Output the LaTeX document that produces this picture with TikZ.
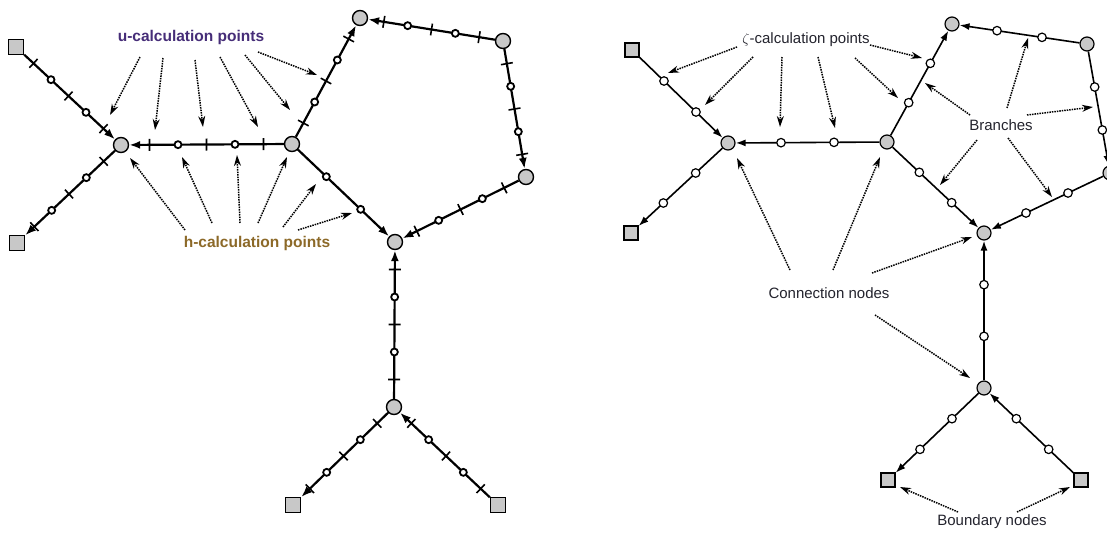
\documentclass[tikz,border=0pt]{standalone}
\usepackage{fontspec}
\setmainfont{Liberation Sans}
\usetikzlibrary{calc,arrows.meta}
\definecolor{nodegray}{RGB}{200,200,200}
\definecolor{ucol}{RGB}{70,45,120}
\definecolor{hcol}{RGB}{140,105,40}
\definecolor{labcol}{RGB}{35,35,45}
\tikzset{
  connL/.style={circle, draw, fill=nodegray, line width=1.4pt, minimum size=15pt, inner sep=0pt},
  connR/.style={circle, draw, fill=nodegray, line width=1.2pt, minimum size=14pt, inner sep=0pt},
  bndL/.style={rectangle, draw, fill=nodegray, line width=1.4pt, minimum size=15pt, inner sep=0pt},
  bndR/.style={rectangle, draw, fill=nodegray, line width=1.2pt, minimum size=14pt, inner sep=0pt},
  hpt/.style={circle, draw, fill=white, line width=1.8pt, minimum size=7pt, inner sep=0pt},
  zpt/.style={circle, draw, fill=white, line width=1.2pt, minimum size=8.5pt, inner sep=0pt},
  brL/.style={line width=2.2pt, -{Latex[length=11pt,width=8pt]}},
  brR/.style={line width=1.6pt, -{Latex[length=10pt,width=7pt]}},
  tk/.style={line width=1.6pt},
  ann/.style={densely dotted, line width=1.5pt, -{Stealth[length=11pt,width=7pt]}},
  leftlab/.style={font=\bfseries\fontsize{15.5}{18}\selectfont, inner sep=1pt},
  rightlab/.style={font=\fontsize{15}{18}\selectfont, text=labcol, inner sep=1pt}
}
% ticks and h-points on a left branch
\newcommand\lmarks[2]{%
  \foreach \t in {1/6,1/2,5/6}{%
    \draw[tk] ($(#1)!\t!(#2)!6pt!90:(#2)$) -- ($(#1)!\t!(#2)!6pt!-90:(#2)$);}
  \node[hpt] (#1#2h1) at ($(#1)!1/3!(#2)$) {};
  \node[hpt] (#1#2h2) at ($(#1)!2/3!(#2)$) {};}
\newcommand\lhonly[2]{%
  \node[hpt] (#1#2h1) at ($(#1)!1/3!(#2)$) {};
  \node[hpt] (#1#2h2) at ($(#1)!2/3!(#2)$) {};}
\newcommand\rmarks[2]{%
  \node[zpt] (#1#2z1) at ($(#1)!1/3!(#2)$) {};
  \node[zpt] (#1#2z2) at ($(#1)!2/3!(#2)$) {};}
\begin{document}
\begin{tikzpicture}[x=1pt,y=-1pt]
\useasboundingbox (0,0) rectangle (1107,533);

% ---------------- left network ----------------
\node[bndL] (LBa) at (16,47) {};
\node[bndL] (LBb) at (17,243) {};
\node[connL] (La) at (121,145) {};
\node[connL] (Lb) at (292,144) {};
\node[connL] (Lc) at (360,18) {};
\node[connL] (Ld) at (503,41) {};
\node[connL] (Le) at (526,177) {};
\node[connL] (Lf) at (395,242) {};
\node[connL] (Lg) at (394,407) {};
\node[bndL] (LBc) at (293,505) {};
\node[bndL] (LBd) at (498,505) {};

\draw[brL] (LBa) -- (La);
\draw[brL] (Lb) -- (La);
\draw[brL] (La) -- (LBb);
\draw[brL] (Lb) -- (Lc);
\draw[brL] (Ld) -- (Lc);
\draw[brL] (Ld) -- (Le);
\draw[brL] (Le) -- (Lf);
\draw[brL] (Lb) -- (Lf);
\draw[brL] (Lg) -- (Lf);
\draw[brL] (Lg) -- (LBc);
\draw[brL] (LBd) -- (Lg);

\lmarks{LBa}{La}
\lmarks{La}{Lb}
\lmarks{La}{LBb}
\lmarks{Lb}{Lc}
\lmarks{Lc}{Ld}
\lmarks{Ld}{Le}
\lmarks{Le}{Lf}
\lhonly{Lb}{Lf}
\lmarks{Lf}{Lg}
\lmarks{Lg}{LBc}
\lmarks{Lg}{LBd}

\node[leftlab, text=ucol] (ulab) at (191,37) {u-calculation points};
\node[leftlab, text=hcol] (hlab) at (257,243) {h-calculation points};

\coordinate (us1) at (140,57);  \coordinate (ue1) at (110,115);
\coordinate (us2) at (163,58);  \coordinate (ue2) at (155,130);
\coordinate (us3) at (195,60);  \coordinate (ue3) at (203,127);
\coordinate (us4) at (220,57);  \coordinate (ue4) at (258,127);
\coordinate (us5) at (245,55);  \coordinate (ue5) at (290,110);
\coordinate (us6) at (258,52);  \coordinate (ue6) at (317,75);
\foreach \i in {1,...,6}{\draw[ann] (us\i) -- (ue\i);}

\coordinate (hs1) at (185,230); \coordinate (he1) at (130,158);
\coordinate (hs2) at (212,223); \coordinate (he2) at (182,157);
\coordinate (hs3) at (240,223); \coordinate (he3) at (237,155);
\coordinate (hs4) at (258,223); \coordinate (he4) at (287,157);
\coordinate (hs5) at (283,227); \coordinate (he5) at (316,184);
\coordinate (hs6) at (298,230); \coordinate (he6) at (352,213);
\foreach \i in {1,...,6}{\draw[ann] (hs\i) -- (he\i);}

% ---------------- right network ----------------
\node[bndR] (RBa) at (632,50) {};
\node[bndR] (RBb) at (631,233) {};
\node[connR] (Ra) at (728,143) {};
\node[connR] (Rb) at (887,142) {};
\node[connR] (Rc) at (952,24) {};
\node[connR] (Rd) at (1087,44) {};
\node[connR] (Re) at (1110,173) {};
\node[connR] (Rf) at (984,233) {};
\node[connR] (Rg) at (984,388) {};
\node[bndR] (RBc) at (888,480) {};
\node[bndR] (RBd) at (1081,480) {};

\draw[brR] (RBa) -- (Ra);
\draw[brR] (Rb) -- (Ra);
\draw[brR] (Ra) -- (RBb);
\draw[brR] (Rb) -- (Rc);
\draw[brR] (Rd) -- (Rc);
\draw[brR] (Rd) -- (Re);
\draw[brR] (Re) -- (Rf);
\draw[brR] (Rb) -- (Rf);
\draw[brR] (Rg) -- (Rf);
\draw[brR] (Rg) -- (RBc);
\draw[brR] (RBd) -- (Rg);

\rmarks{RBa}{Ra}
\rmarks{Ra}{Rb}
\rmarks{Ra}{RBb}
\rmarks{Rb}{Rc}
\rmarks{Rc}{Rd}
\rmarks{Rd}{Re}
\rmarks{Re}{Rf}
\rmarks{Rb}{Rf}
\rmarks{Rf}{Rg}
\rmarks{Rg}{RBc}
\rmarks{Rg}{RBd}

\node[rightlab] (zlab) at (806,40) {$\zeta$-calculation points};
\node[rightlab] (blab) at (1001,125) {Branches};
\node[rightlab] (clab) at (829,293) {Connection nodes};
\node[rightlab] (dlab) at (992,522) {Boundary nodes};

\coordinate (zs1) at (737,47);  \coordinate (ze1) at (668,73);
\coordinate (zs2) at (753,57);  \coordinate (ze2) at (705,105);
\coordinate (zs3) at (782,57);  \coordinate (ze3) at (780,127);
\coordinate (zs4) at (818,57);  \coordinate (ze4) at (835,128);
\coordinate (zs5) at (855,58);  \coordinate (ze5) at (898,98);
\coordinate (zs6) at (870,45);  \coordinate (ze6) at (922,58);
\foreach \i in {1,...,6}{\draw[ann] (zs\i) -- (ze\i);}

\coordinate (bs1) at (970,115);  \coordinate (be1) at (925,83);
\coordinate (bs2) at (1007,108); \coordinate (be2) at (1028,38);
\coordinate (bs3) at (1027,115); \coordinate (be3) at (1093,107);
\coordinate (bs4) at (1008,138); \coordinate (be4) at (1052,197);
\coordinate (bs5) at (977,140);  \coordinate (be5) at (940,185);
\foreach \i in {1,...,5}{\draw[ann] (bs\i) -- (be\i);}

\coordinate (cs1) at (790,270); \coordinate (ce1) at (737,158);
\coordinate (cs2) at (833,270); \coordinate (ce2) at (880,157);
\coordinate (cs3) at (872,273); \coordinate (ce3) at (972,237);
\coordinate (cs4) at (875,315); \coordinate (ce4) at (970,378);
\foreach \i in {1,...,4}{\draw[ann] (cs\i) -- (ce\i);}

\coordinate (ds1) at (958,512);  \coordinate (de1) at (900,487);
\coordinate (ds2) at (1017,512); \coordinate (de2) at (1070,487);
\foreach \i in {1,2}{\draw[ann] (ds\i) -- (de\i);}
\end{tikzpicture}
\end{document}
